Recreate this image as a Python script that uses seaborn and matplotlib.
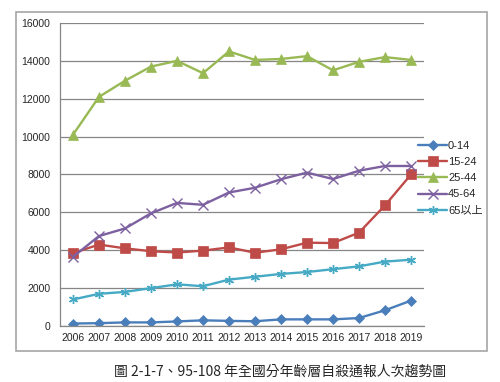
import matplotlib
matplotlib.use("Agg")
import matplotlib.pyplot as plt
import seaborn as sns
import pandas as pd
from matplotlib.patches import Rectangle
from matplotlib.ticker import MultipleLocator

years = list(range(2006, 2020))
age_0_14 = [130, 150, 190, 190, 240, 300, 270, 250, 350, 350, 350, 420, 830, 1340]
age_15_24 = [3850, 4300, 4100, 3950, 3880, 3980, 4150, 3870, 4050, 4400, 4380, 4930, 6370, 8000]
age_25_44 = [10100, 12100, 12950, 13700, 14000, 13350, 14500, 14050, 14100, 14250, 13500, 13950, 14200, 14050]
age_45_64 = [3650, 4750, 5150, 5950, 6500, 6400, 7050, 7300, 7750, 8100, 7760, 8200, 8450, 8450]
age_65_up = [1400, 1700, 1800, 2000, 2200, 2100, 2450, 2600, 2750, 2850, 3000, 3150, 3400, 3500]

groups = ["0-14", "15-24", "25-44", "45-64", "65以上"]
series = [age_0_14, age_15_24, age_25_44, age_45_64, age_65_up]
colors = ["#4A7EBB", "#BE4B48", "#98B954", "#7D60A0", "#46AAC5"]
markers = ["D", "s", "^", "x", (6, 2, 0)]
msizes = [5, 7, 7, 6.5, 6.5]

rows = []
for g, vals in zip(groups, series):
    for y, v in zip(years, vals):
        rows.append({"year": y, "count": v, "group": g})
df = pd.DataFrame(rows)

sns.set_style("white")
plt.rcParams["font.family"] = ["Liberation Sans", "Noto Sans CJK TC", "DejaVu Sans"]

fig = plt.figure(figsize=(5, 3.82), dpi=100)
ax = fig.add_axes([0.12, 0.1466, 0.728, 0.7932])

# outer chart frame
fig.patches.append(Rectangle((16 / 500, 1 - 351 / 382), 471 / 500, 339 / 382,
                             transform=fig.transFigure, fill=False,
                             edgecolor="#A6A6A6", linewidth=1.2))

for g, vals, c, m, ms in zip(groups, series, colors, markers, msizes):
    sns.lineplot(data=df[df["group"] == g], x="year", y="count", ax=ax,
                 color=c, marker=m, markersize=ms, linewidth=1.7,
                 markeredgecolor=c, markeredgewidth=1.0 if m in ("x", (6, 2, 0)) else 0.5,
                 label=g)

ax.set_xlim(2005.5, 2019.5)
ax.set_ylim(0, 16000)
ax.yaxis.set_major_locator(MultipleLocator(2000))
ax.set_xticks(years)
ax.set_xticklabels([str(y) for y in years])
ax.set_xticks([y + 0.5 for y in [2005] + years], minor=True)
ax.tick_params(axis="x", which="major", length=0, labelsize=7.5, pad=5)
ax.tick_params(axis="x", which="minor", length=4, color="#868686", width=0.8)
ax.tick_params(axis="y", which="major", length=4, color="#868686", width=0.8, labelsize=7.5, pad=3)
ax.grid(axis="y", color="#868686", linewidth=0.9)
ax.set_axisbelow(True)
for s in ["top", "right"]:
    ax.spines[s].set_visible(False)
for s in ["left", "bottom"]:
    ax.spines[s].set_color("#868686")
    ax.spines[s].set_linewidth(0.9)
ax.set_xlabel("")
ax.set_ylabel("")

ax.legend(loc="upper left", bbox_to_anchor=(0.825, 0.645), bbox_transform=fig.transFigure,
          frameon=False, fontsize=8, handlelength=2.6, handletextpad=0.1,
          labelspacing=0.55, borderpad=0)

fig.text(0.56, 1 - 372 / 382, "圖 2-1-7、95-108 年全國分年齡層自殺通報人次趨勢圖",
         ha="center", va="center", fontsize=10,
         family=["Noto Sans CJK TC", "DejaVu Sans"])

fig.savefig("out.png", dpi=100)
